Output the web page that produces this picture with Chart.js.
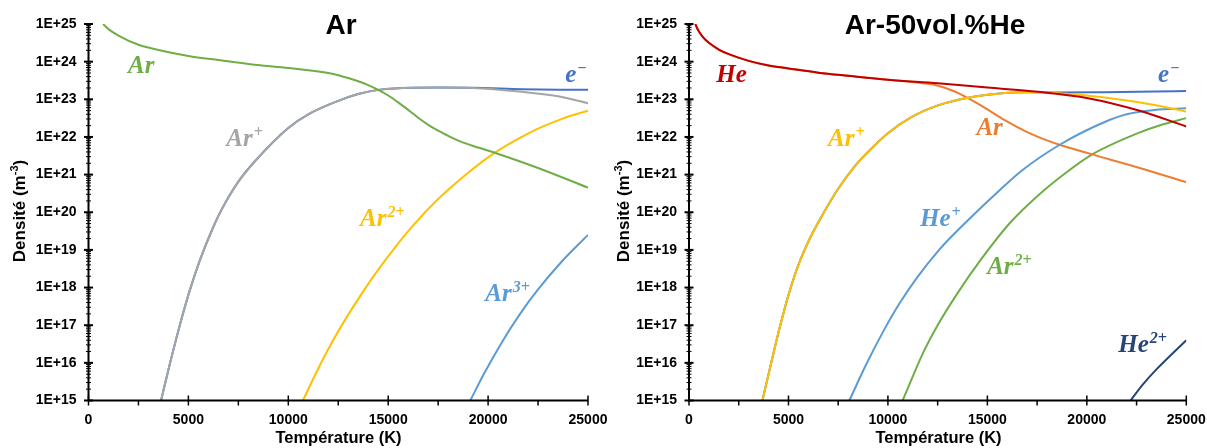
<!DOCTYPE html>
<html>
<head>
<meta charset="utf-8">
<script src="https://cdn.jsdelivr.net/npm/chart.js@4.4.0/dist/chart.umd.min.js"></script>
<style>
html,body{margin:0;padding:0;background:#fff;}
body{width:1207px;height:448px;position:relative;overflow:hidden;}
#c1{position:absolute;left:0;top:0;}
#c2{position:absolute;left:600px;top:0;}
</style>
</head>
<body>
<canvas id="c1" width="620" height="448"></canvas>
<canvas id="c2" width="607" height="448"></canvas>
<script>
// ---------- axis ticks ----------
const xTickValues = [0, 5000, 10000, 15000, 20000, 25000];
const xTickLabels = ['0', '5000', '10000', '15000', '20000', '25000'];
const yTickValues = [1e15, 1e16, 1e17, 1e18, 1e19, 1e20, 1e21, 1e22, 1e23, 1e24, 1e25];
const yTickLabels = ['1E+15', '1E+16', '1E+17', '1E+18', '1E+19', '1E+20', '1E+21', '1E+22', '1E+23', '1E+24', '1E+25'];

// ---------- left chart : Ar ----------
const tAr_L  = [730, 1000, 1500, 2500, 3500, 5000, 6500, 8300, 10000, 11500, 12000, 12500, 13000, 13500, 14000, 14500, 15000, 15500, 16000, 16600, 17100, 17600, 18100, 18600, 19500, 20400, 22500, 25000];
const nAr_L  = [1e25, 7.3e24, 4.9e24, 2.8e24, 2.05e24, 1.42e24, 1.1e24, 8.3e23, 6.8e23, 5.5e23, 5.0e23, 4.37e23, 3.67e23, 3.02e23, 2.37e23, 1.78e23, 1.26e23, 8.3e22, 5.25e22, 2.95e22, 1.95e22, 1.38e22, 1.0e22, 7.6e21, 5.25e21, 3.7e21, 1.5e21, 4.5e20];
const tArp_L = [3630, 4080, 4580, 5050, 5590, 6240, 6640, 7500, 8340, 10000, 11000, 12500, 13500, 14500, 16200, 17500, 19200, 21700, 23500, 25000];
const nArp_L = [1e15, 9.8e15, 1.05e17, 7.8e17, 5.6e18, 4e19, 1.12e20, 6.5e20, 2.3e21, 1.74e22, 4e22, 9.1e22, 1.38e23, 1.78e23, 2.04e23, 2.05e23, 2.0e23, 1.58e23, 1.2e23, 7.9e22];
const tE_L   = [3630, 4080, 4580, 5050, 5590, 6240, 6640, 7500, 8340, 10000, 11000, 12500, 13500, 14500, 16200, 17500, 19200, 21700, 23500, 25000];
const nE_L   = [1e15, 9.8e15, 1.05e17, 7.8e17, 5.6e18, 4e19, 1.12e20, 6.5e20, 2.3e21, 1.74e22, 4e22, 9.1e22, 1.38e23, 1.78e23, 2.04e23, 2.05e23, 2.03e23, 1.86e23, 1.8e23, 1.78e23];
const tAr2_L = [10730, 11500, 12300, 13200, 14200, 15200, 16270, 17500, 19000, 20400, 21500, 22500, 23800, 25000];
const nAr2_L = [1e15, 7.1e15, 4.5e16, 2.8e17, 1.78e18, 9.3e18, 4.6e19, 2.24e20, 1.12e21, 4e21, 8.9e21, 1.66e22, 3.16e22, 5e22];
const tAr3_L = [19110, 19800, 20700, 21600, 22500, 23700, 25000];
const nAr3_L = [1e15, 5.2e15, 3.6e16, 2e17, 8.9e17, 5e18, 2.5e19];

// ---------- right chart : Ar-50vol.%He ----------
const tHe_R  = [320, 400, 500, 700, 1000, 1500, 2000, 3000, 4000, 5000, 6500, 8000, 10000, 12500, 15000, 17550, 20060, 22570, 25000];
const nHe_R  = [1e25, 7.9e24, 6.3e24, 4.5e24, 3.16e24, 2.1e24, 1.58e24, 1.05e24, 7.9e23, 6.6e23, 5.1e23, 4.2e23, 3.3e23, 2.65e23, 2.05e23, 1.58e23, 1.07e23, 5.1e22, 1.9e22];
const tAr_R  = [320, 400, 500, 700, 1000, 1500, 2000, 3000, 4000, 5000, 6500, 8000, 10000, 11000, 12000, 12520, 13300, 14030, 15000, 15870, 17000, 18000, 18700, 20210, 22570, 25000];
const nAr_R  = [1e25, 7.9e24, 6.3e24, 4.5e24, 3.16e24, 2.1e24, 1.58e24, 1.05e24, 7.9e23, 6.6e23, 5.1e23, 4.2e23, 3.3e23, 2.95e23, 2.57e23, 2.3e23, 1.66e23, 1.07e23, 5.4e22, 2.8e22, 1.35e22, 8.1e21, 6e21, 3.5e21, 1.55e21, 6.3e20];
const tArp_R = [3690, 4150, 4580, 5000, 5500, 6100, 6700, 7500, 8330, 9000, 10000, 11200, 12520, 14030, 15870, 17000, 18390, 20900, 23410, 25000];
const nArp_R = [1e15, 1.1e16, 9.5e16, 6.3e17, 4e18, 2.14e19, 8.3e19, 4.2e20, 1.66e21, 4e21, 1.26e22, 3.4e22, 6.9e22, 1.1e23, 1.48e23, 1.55e23, 1.48e23, 1.12e23, 7.1e22, 4.7e22];
const tE_R   = [3690, 4150, 4580, 5000, 5500, 6100, 6700, 7500, 8330, 9000, 10000, 11200, 12520, 14030, 15870, 17000, 18390, 20900, 23410, 25000];
const nE_R   = [1e15, 1.1e16, 9.5e16, 6.3e17, 4e18, 2.14e19, 8.3e19, 4.2e20, 1.66e21, 4e21, 1.26e22, 3.4e22, 6.9e22, 1.1e23, 1.48e23, 1.55e23, 1.52e23, 1.55e23, 1.6e23, 1.65e23];
const tHep_R = [8060, 8900, 9800, 10610, 11500, 12520, 13300, 14180, 15400, 16690, 18700, 20900, 22000, 23410, 25000];
const nHep_R = [1e15, 8.9e15, 7.4e16, 4e17, 1.95e18, 9.3e18, 2.57e19, 7.4e19, 3e20, 1.23e21, 6.5e21, 2.5e22, 4e22, 5.2e22, 5.75e22];
const tAr2_R = [10740, 11780, 12500, 13460, 14700, 16140, 17550, 18900, 20210, 22570, 23800, 25000];
const nAr2_R = [1e15, 1.9e16, 1e17, 6.6e17, 5.75e18, 5.25e19, 2.8e20, 1.07e21, 3.3e21, 1.26e22, 2.14e22, 3.16e22];
const tHe2_R = [22200, 22800, 23510, 25000];
const nHe2_R = [1e15, 2.6e15, 6.8e15, 4e16];

// ---------- colours ----------
const COL = {green:'#70AD47', gray:'#A5A5A5', gold:'#FFC000', sky:'#5B9BD5', blue:'#4472C4',
             red:'#C00000', orange:'#ED7D31', navy:'#264478'};

function pts(t, n) { return t.map((x, i) => ({x: x, y: n[i]})); }
function ds(label, t, n, color, order) {
  return {label, data: pts(t, n), borderColor: color, backgroundColor: color, borderWidth: 2,
          pointRadius: 0, fill: false, cubicInterpolationMode: 'monotone', order};
}

const SANS = '"Liberation Sans", Arial, sans-serif';
const SERIF = '"Liberation Serif", "Times New Roman", serif';

function supText(ctx, x, y, base, sup, baseFont, supFont, raise) {
  ctx.font = baseFont;
  ctx.fillText(base, x, y);
  if (sup) {
    const w = ctx.measureText(base).width;
    ctx.font = supFont;
    ctx.fillText(sup, x + w + 1, y - raise);
  }
}

const deco = {
  id: 'deco',
  afterDraw(chart, args, o) {
    const ctx = chart.ctx, xs = chart.scales.x, ys = chart.scales.y, a = chart.chartArea;
    ctx.save();
    ctx.strokeStyle = '#000';
    ctx.lineWidth = 2;
    ctx.beginPath();
    ctx.moveTo(a.left, a.top); ctx.lineTo(a.left, a.bottom); ctx.lineTo(a.right, a.bottom);
    ctx.stroke();
    ctx.lineWidth = 1.5;
    for (let v = 0; v <= 25000; v += 2500) {
      const px = xs.getPixelForValue(v), major = v % 5000 === 0;
      ctx.beginPath();
      ctx.moveTo(px, a.bottom - (major ? 5 : 0));
      ctx.lineTo(px, a.bottom + 5);
      ctx.stroke();
    }
    for (let e = 15; e <= 25; e++) {
      for (let k = 1; k <= 9; k++) {
        if (e === 25 && k > 1) break;
        const py = ys.getPixelForValue(k * Math.pow(10, e));
        const L = k === 1 ? 4.5 : 2.5;
        ctx.lineWidth = k === 1 ? 2 : 1;
        ctx.beginPath();
        ctx.moveTo(a.left - L, py); ctx.lineTo(a.left + L, py);
        ctx.stroke();
      }
    }
    ctx.fillStyle = '#000';
    ctx.textAlign = 'center';
    ctx.textBaseline = 'alphabetic';
    ctx.font = 'bold 28px ' + SANS;
    ctx.fillText(o.title, o.titleX, 34);
    ctx.font = 'bold 16.5px ' + SANS;
    ctx.fillText('Température (K)', o.xTitleX, 443);
    ctx.save();
    ctx.translate(o.yTitleX, o.yTitleY);
    ctx.rotate(-Math.PI / 2);
    ctx.textAlign = 'left';
    const f1 = 'bold 17px ' + SANS, f2 = 'bold 11px ' + SANS;
    ctx.font = f1; const w1 = ctx.measureText('Densité (m').width; const w3 = ctx.measureText(')').width;
    ctx.font = f2; const w2 = ctx.measureText('-3').width;
    let x0 = -(w1 + w2 + w3) / 2;
    ctx.font = f1; ctx.fillText('Densité (m', x0, 6);
    ctx.font = f2; ctx.fillText('-3', x0 + w1, -1);
    ctx.font = f1; ctx.fillText(')', x0 + w1 + w2, 6);
    ctx.restore();
    ctx.textAlign = 'left';
    for (const l of o.labels) {
      ctx.fillStyle = l.color;
      supText(ctx, xs.getPixelForValue(l.x), ys.getPixelForValue(l.y), l.base, l.sup,
              'italic bold 25px ' + SERIF, 'italic bold 16px ' + SERIF, 9);
    }
    ctx.restore();
  }
};

function scalesFor(yWidth) {
  const tickFont = {family: SANS, weight: 'bold', size: 14};
  return {
    x: {
      type: 'linear', min: 0, max: 25000,
      afterBuildTicks: s => { s.ticks = xTickValues.map(v => ({value: v})); },
      ticks: {callback: (v, i) => xTickLabels[i], font: tickFont, color: '#000', padding: 11,
              maxRotation: 0, autoSkip: false},
      grid: {display: false, drawTicks: false},
      border: {display: false},
      afterFit: s => { s.height = 47.5; s.paddingLeft = 0; s.paddingRight = 0; }
    },
    y: {
      type: 'logarithmic', min: 1e15, max: 1e25,
      afterBuildTicks: s => { s.ticks = yTickValues.map(v => ({value: v})); },
      ticks: {callback: (v, i) => yTickLabels[i], font: tickFont, color: '#000', padding: 12, autoSkip: false},
      grid: {display: false, drawTicks: false},
      border: {display: false},
      afterFit: s => { s.width = yWidth; s.paddingTop = 0; s.paddingBottom = 0; }
    }
  };
}

const common = {
  responsive: false, animation: false, events: [],
  plugins: {legend: {display: false}, tooltip: {enabled: false}, title: {display: false}}
};

new Chart(document.getElementById('c1'), {
  type: 'line',
  data: {datasets: [
    ds('e-', tE_L, nE_L, COL.blue, 6),
    ds('Ar+', tArp_L, nArp_L, COL.gray, 2),
    ds('Ar', tAr_L, nAr_L, COL.green, 1),
    ds('Ar2+', tAr2_L, nAr2_L, COL.gold, 3),
    ds('Ar3+', tAr3_L, nAr3_L, COL.sky, 4)
  ]},
  options: Object.assign({}, common, {
    layout: {padding: {left: 0, top: 24, right: 32, bottom: 0}},
    scales: scalesFor(88.5),
    plugins: Object.assign({}, common.plugins, {deco: {
      title: 'Ar', titleX: 341, xTitleX: 338.5, yTitleX: 18.5, yTitleY: 211,
      labels: [
        {base: 'Ar', sup: '', color: COL.green, x: 1980, y: 5.1e23},
        {base: 'Ar', sup: '+', color: COL.gray, x: 6900, y: 5.8e21},
        {base: 'e', sup: '\u2212', color: COL.blue, x: 23860, y: 2.9e23},
        {base: 'Ar', sup: '2+', color: COL.gold, x: 13590, y: 4.4e19},
        {base: 'Ar', sup: '3+', color: COL.sky, x: 19860, y: 4.5e17}
      ]
    }})
  }),
  plugins: [deco]
});

new Chart(document.getElementById('c2'), {
  type: 'line',
  data: {datasets: [
    ds('e-', tE_R, nE_R, COL.blue, 8),
    ds('Ar+', tArp_R, nArp_R, COL.gold, 3),
    ds('Ar', tAr_R, nAr_R, COL.orange, 5),
    ds('He', tHe_R, nHe_R, COL.red, 2),
    ds('He+', tHep_R, nHep_R, COL.sky, 4),
    ds('Ar2+', tAr2_R, nAr2_R, COL.green, 6),
    ds('He2+', tHe2_R, nHe2_R, COL.navy, 7)
  ]},
  options: Object.assign({}, common, {
    layout: {padding: {left: 0, top: 24, right: 20.7, bottom: 0}},
    scales: scalesFor(89),
    plugins: Object.assign({}, common.plugins, {deco: {
      title: 'Ar-50vol.%He', titleX: 335, xTitleX: 338.5, yTitleX: 22.5, yTitleY: 211,
      labels: [
        {base: 'He', sup: '', color: COL.red, x: 1370, y: 2.8e23},
        {base: 'Ar', sup: '+', color: COL.gold, x: 6990, y: 5.8e21},
        {base: 'e', sup: '\u2212', color: COL.blue, x: 23580, y: 2.8e23},
        {base: 'Ar', sup: '', color: COL.orange, x: 14450, y: 1.12e22},
        {base: 'He', sup: '+', color: COL.sky, x: 11610, y: 4.3e19},
        {base: 'Ar', sup: '2+', color: COL.green, x: 14990, y: 2.3e18},
        {base: 'He', sup: '2+', color: COL.navy, x: 21580, y: 1.95e16}
      ]
    }})
  }),
  plugins: [deco]
});
</script>
</body>
</html>
